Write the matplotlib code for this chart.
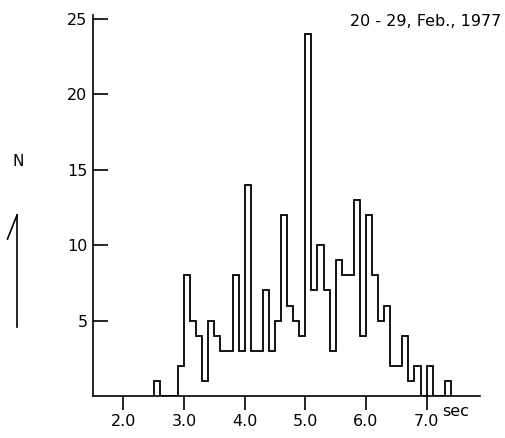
import numpy as np
import matplotlib
matplotlib.use("Agg")
import matplotlib.pyplot as plt
from matplotlib.lines import Line2D

# histogram data (bin width 0.1 sec)
bin_edges = np.round(np.arange(2.5, 7.45, 0.1), 1)
counts = [1, 0, 0, 0, 2, 8, 5, 4, 1, 5,
          4, 3, 3, 8, 3, 14, 3, 3, 7, 3,
          5, 12, 6, 5, 4, 24, 7, 10, 7, 3,
          9, 8, 8, 13, 4, 12, 8, 5, 6, 2,
          2, 4, 1, 2, 0, 2, 0, 0, 1]
x_ticks = [2.0, 3.0, 4.0, 5.0, 6.0, 7.0]
x_tick_labels = ["2.0", "3.0", "4.0", "5.0", "6.0", "7.0"]
y_ticks = [5, 10, 15, 20, 25]
y_tick_labels = ["5", "10", "15", "20", "25"]
title = "20 - 29, Feb., 1977"

W, H = 506, 438
fig = plt.figure(figsize=(W / 100, H / 100), dpi=100)
ax = fig.add_axes([93 / W, 1 - 396 / H, (480 - 93) / W, (396 - 15) / H])

ax.stairs(counts, bin_edges, color="black", linewidth=1.3)

ax.set_xlim(1.50, 7.88)
ax.set_ylim(0, 25.27)
ax.spines["top"].set_visible(False)
ax.spines["right"].set_visible(False)
ax.spines["left"].set_linewidth(1.2)
ax.spines["bottom"].set_linewidth(1.2)

ax.set_xticks(x_ticks)
ax.set_xticklabels(x_tick_labels)
ax.set_yticks(y_ticks)
ax.set_yticklabels(y_tick_labels)
ax.tick_params(axis="x", direction="out", length=10, width=1.2, labelsize=11.5, pad=3)
# y ticks point into the plot in the original
ax.tick_params(axis="y", direction="in", length=11, width=1.2, labelsize=11.5, pad=4)

# annotations around the plot
fig.text(456 / W, 1 - 411 / H, "sec", fontsize=11.5, ha="center", va="center")
fig.text(501 / W, 1 - 22 / H, title, fontsize=11.5, ha="right", va="center")
fig.text(18 / W, 1 - 162 / H, "N", fontsize=11, ha="center", va="center")
fig.add_artist(Line2D([17 / W, 17 / W], [1 - 215 / H, 1 - 327 / H], color="black", lw=1.2))
fig.add_artist(Line2D([17 / W, 7.5 / W], [1 - 215 / H, 1 - 239 / H], color="black", lw=1.2))

fig.savefig("out.png", dpi=100)
